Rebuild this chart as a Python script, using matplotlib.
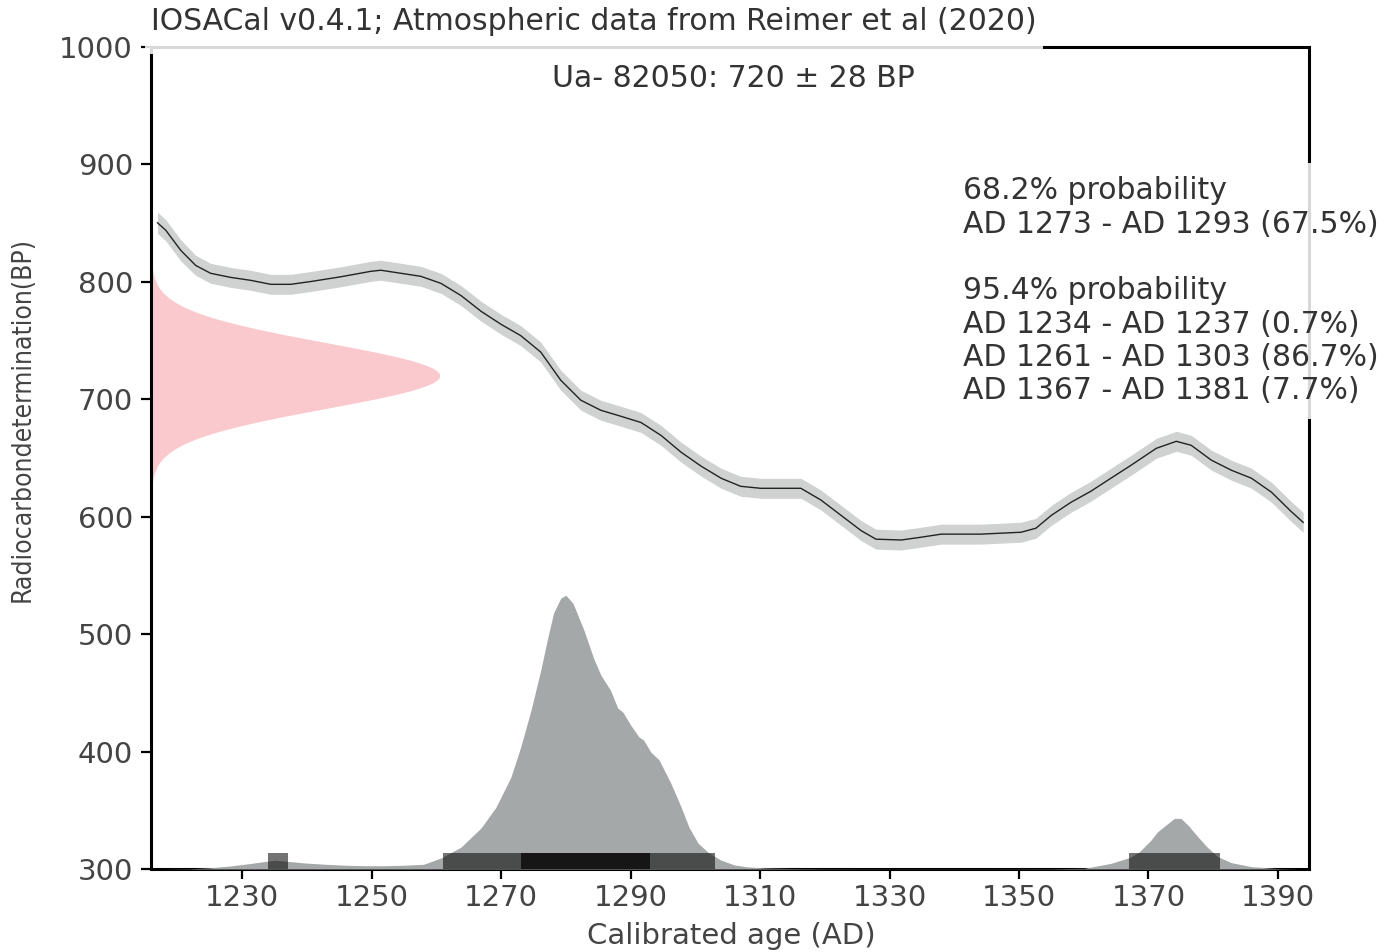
import numpy as np
import matplotlib.pyplot as plt
from matplotlib.patches import Rectangle

# calibration curve (year AD, BP, 1 sigma)
curve_year = [1216.9, 1218.2, 1220.5, 1222.8, 1225.1, 1228.2, 1231.3, 1234.4, 1237.5, 1240.6,
              1245.2, 1249.8, 1251.4, 1254.5, 1257.6, 1260.7, 1263.8, 1266.9, 1270.0, 1273.0,
              1276.1, 1279.2, 1282.3, 1285.4, 1288.5, 1291.6, 1294.7, 1297.8, 1300.9, 1304.0,
              1307.0, 1310.1, 1313.2, 1316.3, 1319.4, 1322.5, 1325.6, 1327.9, 1331.8, 1334.9,
              1338.0, 1341.0, 1344.1, 1347.2, 1350.3, 1352.6, 1355.0, 1358.0, 1361.1, 1364.2,
              1367.3, 1371.2, 1374.3, 1376.6, 1379.7, 1382.8, 1385.9, 1389.0, 1392.0, 1393.9]
curve_bp = [850, 843.5, 826.5, 813.7, 807, 803.5, 801, 797.6, 797.6, 800,
            804, 808.6, 809.6, 807, 804.4, 798.4, 788, 774.6, 763.5, 754,
            740, 716, 699, 690.4, 685.3, 680, 669, 654.7, 642.8, 632.5,
            625.7, 624, 624, 624, 614, 601, 588, 580.7, 580, 582.4,
            585, 585, 585, 585.8, 586.6, 590, 601, 612, 621.5, 632.6,
            643.6, 658, 664, 660.6, 648, 639.4, 632.6, 620.7, 604.5, 595]
curve_err = [9, 9, 9, 8.5, 8.5, 8.5, 8.5, 8.5, 8.5, 8.5,
             8.5, 8.5, 8.5, 8.5, 8.5, 8.5, 8.5, 8.5, 8.5, 8.5,
             8.5, 8.5, 8.5, 8.5, 8.5, 8.5, 8.5, 8.5, 8.5, 8.5,
             8.5, 8.5, 8.5, 8.5, 8.5, 8.5, 8.5, 8.5, 8.5, 8.5,
             8.5, 8.5, 8.5, 8.5, 8.5, 8.5, 8.5, 8.5, 8.5, 8.5,
             8.5, 8.5, 8.5, 8.5, 8.5, 8.5, 8.5, 8.5, 8.5, 8.5]

# radiocarbon determination
sample_label = "Ua- 82050: 720 ± 28 BP"
bp_mean = 720
bp_sd = 28

# calibrated probability (arbitrary units)
cal_year = [1217, 1222, 1225, 1228, 1231, 1233, 1235, 1237, 1240, 1243,
            1246, 1249, 1252, 1255, 1258, 1260.7, 1263.8, 1266.9, 1269.2, 1271.5,
            1273.0, 1274.6, 1276.1, 1277.2, 1278.1, 1279.2, 1280.0, 1281.1, 1282.8, 1284.3,
            1285.4, 1286.9, 1288.0, 1288.8, 1290.0, 1291.3, 1292.0, 1293.1, 1294.4, 1296.2,
            1297.8, 1299.0, 1300.4, 1301.9, 1303.9, 1306, 1308, 1311, 1315, 1320,
            1330, 1345, 1355, 1360.1, 1364.2, 1367.2, 1368.6, 1370.4, 1371.4, 1372.7,
            1374.0, 1375.0, 1376.1, 1377.4, 1379.0, 1380.7, 1382.8, 1385.9, 1390, 1393]
cal_prob = [0, 0.2, 1.0, 2.5, 4.5, 6.0, 7.5, 6.5, 5.0, 4.0,
            3.2, 2.8, 2.8, 3.2, 4.0, 9.4, 18.7, 35, 52.7, 78.2,
            103.6, 135, 169, 197, 218, 230.5, 233, 226, 203, 179,
            165, 152, 137, 133.5, 122.5, 112.3, 109.8, 99.6, 92.8, 73.1,
            52.7, 35.7, 22.1, 14.5, 7.7, 3.5, 1.8, 0.8, 0.4, 0.2,
            0.1, 0.1, 0.2, 0.6, 4.8, 10, 14.7, 24.7, 31.7, 37.4,
            43.1, 43.1, 37.4, 28.9, 19, 10.5, 5.4, 2, 0.3, 0]

# highest density ranges
ranges_68 = [(1273, 1293)]
ranges_95 = [(1234, 1237), (1261, 1303), (1367, 1381)]
ranges_text = ("68.2% probability\n"
               "AD 1273 - AD 1293 (67.5%)\n"
               "\n"
               "95.4% probability\n"
               "AD 1234 - AD 1237 (0.7%)\n"
               "AD 1261 - AD 1303 (86.7%)\n"
               "AD 1367 - AD 1381 (7.7%)")

title = "IOSACal v0.4.1; Atmospheric data from Reimer et al (2020)"

txt = '#444444'
fig = plt.figure(figsize=(14, 9.52), dpi=100)
ax = fig.add_axes([0.10786, 0.08718, 0.82714, 0.86397])
ax.set_xlim(1215.9, 1394.8)
ax.set_ylim(300, 1000)

# calibration curve
cy = np.array(curve_bp)
ce = np.array(curve_err)
ax.fill_between(curve_year, cy - ce, cy + ce, color='#d0d2d2', lw=0, zorder=1)
ax.plot(curve_year, curve_bp, color='#222222', lw=1.0, zorder=2)

# radiocarbon date as a normal curve on the y axis
bp = np.linspace(bp_mean - 4 * bp_sd, bp_mean + 4 * bp_sd, 400)
dens = np.exp(-0.5 * ((bp - bp_mean) / bp_sd) ** 2)
x0 = ax.get_xlim()[0]
ax.fill_betweenx(bp, x0, x0 + dens * 44.6, color='#f9c9ce', lw=0, zorder=1)

# calibrated distribution on a twin axis
ax2 = ax.twinx()
ax2.set_ylim(0, 700)
ax2.fill_between(cal_year, 0, cal_prob, color='#a5a8a8', lw=0)
for a, b in ranges_95:
    ax2.axvspan(a, b, ymin=0, ymax=0.0195, color='k', alpha=0.55, lw=0)
for a, b in ranges_68:
    ax2.axvspan(a, b, ymin=0, ymax=0.0195, color='k', alpha=0.7, lw=0)
ax2.axis('off')

# axes style
for s in ax.spines.values():
    s.set_linewidth(2.2)
    s.set_color('black')
ax.set_xticks(range(1230, 1391, 20))
ax.set_yticks(range(300, 1001, 100))
ax.tick_params(axis='both', direction='out', length=7, width=1.6, color='black',
               labelcolor=txt, labelsize=21)
ax.tick_params(axis='y', pad=6)
ax.tick_params(axis='x', pad=4)

ax.set_xlabel("Calibrated age (AD)", fontsize=21, color=txt, va='center')
ax.xaxis.set_label_coords(0.5009, -0.0815)
ax.set_ylabel("Radiocarbondetermination(BP)", fontsize=19, color=txt, va='center',
              fontstretch='condensed')
ax.yaxis.set_label_coords(-0.111, 0.546)

ax.text(0.503, 0.961, sample_label, transform=ax.transAxes, ha='center', va='center',
        fontsize=21.5, color='#333333', zorder=5,
        bbox=dict(facecolor='white', alpha=0.85, lw=0, boxstyle='square,pad=0.2'))
ax.text(0.701, 0.703, ranges_text, transform=ax.transAxes, ha='left', va='center',
        fontsize=21.5, color='#333333', linespacing=1.19, zorder=5,
        bbox=dict(facecolor='white', alpha=0.85, lw=0, boxstyle='square,pad=0.45'))

# header box over the top spine
fig.patches.append(Rectangle((145 / 1400, 1 - 54 / 952), 898 / 1400, 54 / 952,
                             transform=fig.transFigure, facecolor='white', alpha=0.85,
                             lw=0, zorder=5))
fig.text(0.1079, 0.9769, title, ha='left', va='center', fontsize=21.5, color='#333333',
         zorder=6)

fig.savefig('out.png', dpi=100)
